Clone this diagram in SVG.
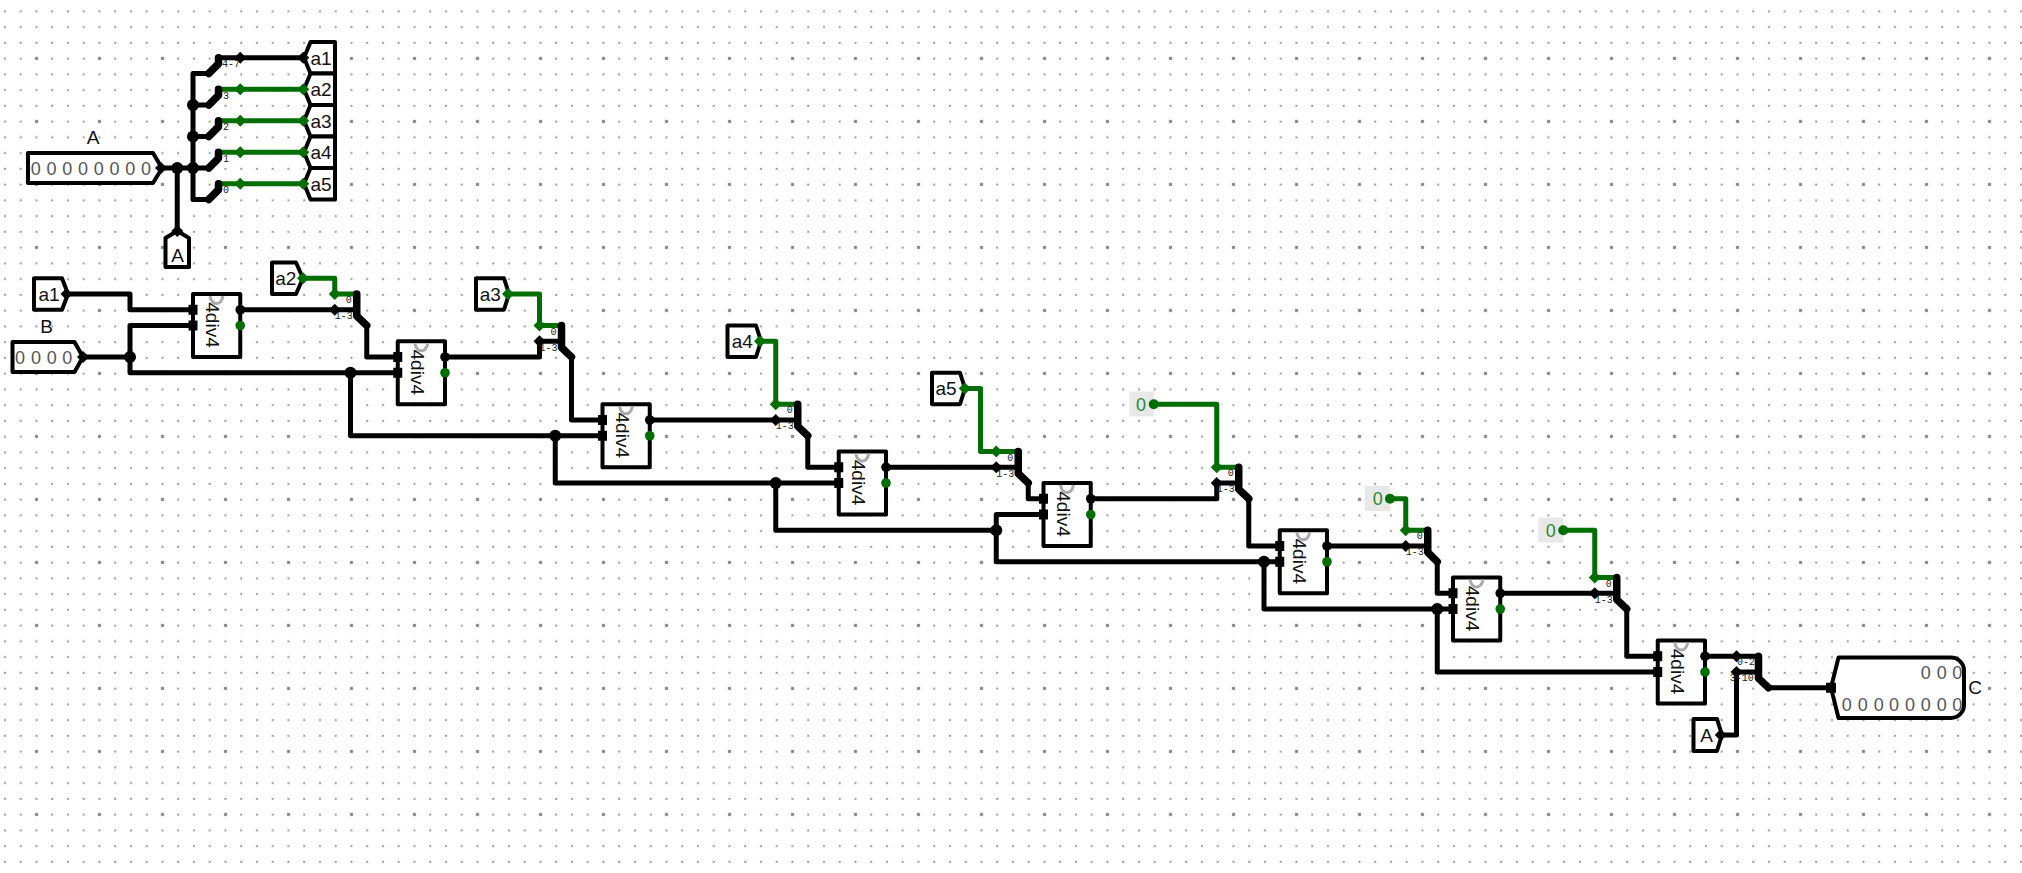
<svg xmlns="http://www.w3.org/2000/svg" width="2022" height="873" viewBox="0 0 2022 873">
<style>
text{font-family:"Liberation Sans",Arial,sans-serif;fill:#111}
.t{font-size:19px;text-anchor:middle}
.v{font-size:18px;text-anchor:middle;fill:#555}
.z{font-size:18px;text-anchor:middle;fill:#2a8a2a}
.m{font-family:"Liberation Mono","Courier New",monospace;font-size:10px;text-anchor:middle;fill:#222}
.box{fill:#fff;stroke:#000;stroke-width:4;stroke-linejoin:round}
.clk{fill:none;stroke:#aaa;stroke-width:3}
.zb{fill:#e8e8e8}
.b,.g{fill:none;stroke-width:5;stroke-linejoin:round;stroke-linecap:round}
.b{stroke:#000}
.g{stroke:#006e00}
.s{fill:none;stroke:#000;stroke-width:7.5;stroke-linejoin:round;stroke-linecap:round}
.kf{fill:#000}
.gf{fill:#006e00}
</style>
<defs>
<pattern id="grid" patternUnits="userSpaceOnUse" x="-2.875" y="34.825" width="63" height="63">
<path fill="#999" d="M6.875 6.875h2v2h-2zM22.625 6.875h2v2h-2zM38.375 6.875h2v2h-2zM54.125 6.875h2v2h-2zM6.875 22.625h2v2h-2zM22.625 22.625h2v2h-2zM54.125 22.625h2v2h-2zM6.875 38.375h2v2h-2zM22.625 38.375h2v2h-2zM38.375 38.375h2v2h-2zM54.125 38.375h2v2h-2zM6.875 54.125h2v2h-2zM22.625 54.125h2v2h-2zM38.375 54.125h2v2h-2zM54.125 54.125h2v2h-2z"/>
<rect x="37.875" y="22.125" width="3" height="3" fill="#808080"/>
</pattern>
<polygon id="dia" points="0,-6 6,0 0,6 -6,0"/>
<g id="regbase">
<rect class="box" width="47.25" height="63"/>
<path class="clk" d="M17 2C19 12 28 12 30 2"/>
<rect class="kf" x="-4.5" y="10.75" width="9" height="10"/>
<rect class="kf" x="-4.5" y="26.5" width="9" height="10"/>
<circle class="kf" cx="47.25" cy="15.75" r="4.8"/>
<circle class="gf" cx="47.25" cy="31.5" r="4.8"/>
</g>
</defs>
<rect width="2022" height="873" fill="#fff"/>
<rect width="2022" height="873" fill="url(#grid)"/>

<g id="input-A">
<path class="box" d="M28 153H153L162 168.2L153 183H28Z"/>
<text class="v" x="35.7" y="174.5">0</text><text class="v" x="51.5" y="174.5">0</text><text class="v" x="67.2" y="174.5">0</text><text class="v" x="83" y="174.5">0</text><text class="v" x="98.7" y="174.5">0</text><text class="v" x="114.5" y="174.5">0</text><text class="v" x="130.2" y="174.5">0</text><text class="v" x="146" y="174.5">0</text>
<text class="t" x="93" y="143.5">A</text>
</g>
<g id="input-B">
<path class="box" d="M12.5 342H74.5L83 357L74.5 372H12.5Z"/>
<text class="v" x="20" y="363.5">0</text><text class="v" x="36" y="363.5">0</text><text class="v" x="51.7" y="363.5">0</text><text class="v" x="67.2" y="363.5">0</text>
<text class="t" x="46.7" y="333">B</text>
</g>
<g id="tunnel-A-top"><path class="box" d="M177.25 231L189 238V267H165.5V238Z"/><text class="t" x="177.5" y="262">A</text></g>
<g id="out-a1"><path class="box" d="M304 57.75L310.5 42H335V73.5H310.5Z"/><text class="t" x="321" y="64.5">a1</text></g>
<g id="out-a2"><path class="box" d="M304 89.25L310.5 73.5H335V105H310.5Z"/><text class="t" x="321" y="96">a2</text></g>
<g id="out-a3"><path class="box" d="M304 120.75L310.5 105H335V136.5H310.5Z"/><text class="t" x="321" y="127.5">a3</text></g>
<g id="out-a4"><path class="box" d="M304 152.25L310.5 136.5H335V168H310.5Z"/><text class="t" x="321" y="159">a4</text></g>
<g id="out-a5"><path class="box" d="M304 183.75L310.5 168H335V199.5H310.5Z"/><text class="t" x="321" y="190.5">a5</text></g>
<g id="tunnel-a1"><path class="box" d="M34 278.25H62L68 294L62 309.75H34Z"/><text class="t" x="49" y="300.8">a1</text></g>
<g id="tunnel-a2"><path class="box" d="M272 262.5H296L303 278.25L296 294H272Z"/><text class="t" x="285.7" y="285">a2</text></g>
<g id="tunnel-a3"><path class="box" d="M476 278.25H504L509 294L504 309.75H476Z"/><text class="t" x="490.3" y="300.8">a3</text></g>
<g id="tunnel-a4"><path class="box" d="M727.5 325.5H756L761 341.25L756 357H727.5Z"/><text class="t" x="742.3" y="348">a4</text></g>
<g id="tunnel-a5"><path class="box" d="M932 372.75H960L965 388.5L960 404.25H932Z"/><text class="t" x="946" y="395.3">a5</text></g>
<g id="tunnel-A-low"><path class="box" d="M1693.5 719H1717L1722 735L1717 751H1693.5Z"/><text class="t" x="1706.7" y="741.5">A</text></g>
<g id="const-0-a"><rect class="zb" x="1129.3" y="391.5" width="24.5" height="25"/><text class="z" x="1141" y="410.5">0</text></g>
<g id="const-0-b"><rect class="zb" x="1365" y="486" width="25" height="25"/><text class="z" x="1377.7" y="505">0</text></g>
<g id="const-0-c"><rect class="zb" x="1538.3" y="517.5" width="25" height="25"/><text class="z" x="1550.7" y="536.5">0</text></g>

<g id="reg1" transform="translate(193 294)"><use href="#regbase"/><text class="t" transform="translate(13 31) rotate(90)">4div4</text></g>
<g id="reg2" transform="translate(397.75 341.25)"><use href="#regbase"/><text class="t" transform="translate(13 31) rotate(90)">4div4</text></g>
<g id="reg3" transform="translate(602.5 404.25)"><use href="#regbase"/><text class="t" transform="translate(13 31) rotate(90)">4div4</text></g>
<g id="reg4" transform="translate(838.75 451.5)"><use href="#regbase"/><text class="t" transform="translate(13 31) rotate(90)">4div4</text></g>
<g id="reg5" transform="translate(1043.5 483)"><use href="#regbase"/><text class="t" transform="translate(13 31) rotate(90)">4div4</text></g>
<g id="reg6" transform="translate(1279.75 530.25)"><use href="#regbase"/><text class="t" transform="translate(13 31) rotate(90)">4div4</text></g>
<g id="reg7" transform="translate(1453 577.5)"><use href="#regbase"/><text class="t" transform="translate(13 31) rotate(90)">4div4</text></g>
<g id="reg8" transform="translate(1657.75 640.5)"><use href="#regbase"/><text class="t" transform="translate(13 31) rotate(90)">4div4</text></g>

<g id="output-C">
<path class="box" d="M1838.5 657.5H1951A13 13 0 0 1 1964 670.5V705A13 13 0 0 1 1951 718H1838.5L1831 687.75Z"/>
<rect class="kf" x="1826" y="682.75" width="10" height="10"/>
<text class="v" x="1925.7" y="678.5">0</text><text class="v" x="1941.7" y="678.5">0</text><text class="v" x="1957.3" y="678.5">0</text>
<text class="v" x="1846.7" y="710.5">0</text><text class="v" x="1862.7" y="710.5">0</text><text class="v" x="1878.7" y="710.5">0</text><text class="v" x="1894" y="710.5">0</text><text class="v" x="1910" y="710.5">0</text><text class="v" x="1925.7" y="710.5">0</text><text class="v" x="1941.7" y="710.5">0</text><text class="v" x="1957.3" y="710.5">0</text>
<text class="t" x="1975" y="694">C</text>
</g>

<g id="connectors">
<path class="b" d="M163 168H208.75M177.25 168V231M208.75 73.5H193V199.5H208.75M193 105H208.75M193 136.5H208.75M218.5 57.75H303.25"/>
<path class="g" d="M218.5 89.25H303.25M218.5 120.75H303.25M218.5 152.25H303.25M218.5 183.75H303.25"/>
<path class="b" d="M67 294H130V309.75H193M83 357H130M193 325.5H130V372.75H397.75M350.5 372.75V435.75H602.5M555.25 435.75V483H838.75M775.75 483V530.25H996.25M996.25 514.5H1043.5M996.25 514.5V561.75H1279.75M1264 561.75V609H1453M1437.25 609V672H1657.75"/>
<path class="b" d="M240.25 309.75H356.75M366.75 325.5V357H397.75M445 357H539.5V341.25H561.5M571.5 357V420H602.5M649.75 420H797.75M807.75 435.75V467.25H838.75M886 467.25H1018.25M1028.25 483V498.75H1043.5M1090.75 498.75H1216.75V483H1238.75M1248.75 498.75V546H1279.75M1327 546H1427.75M1437.25 561.75V593.25H1453M1500.25 593.25H1616.75M1626.75 609V656.25H1657.75M1705 656.25H1758.5M1722 735H1736.5V672H1758.5M1768.5 687.75H1831"/>
<path class="g" d="M303.25 278.25H334.75V294H356.75M508 294H539.5V325.5H561.5M760 341.25H775.75V404.25H797.75M964.75 388.5H980.5V451.5H1018.25M1153.75 404.25H1216.75V467.25H1238.75M1390 498.75H1405.75V530.25H1427.75M1563.25 530.25H1594.75V577.5H1616.75"/>
<g class="kf">
<circle cx="177.25" cy="168" r="6"/><circle cx="193" cy="105" r="6"/><circle cx="193" cy="136.5" r="6"/><circle cx="193" cy="168" r="6"/>
<circle cx="130" cy="357" r="6"/><circle cx="350.5" cy="372.75" r="6"/><circle cx="555.25" cy="435.75" r="6"/><circle cx="775.75" cy="483" r="6"/><circle cx="996.25" cy="530.25" r="6"/><circle cx="1264" cy="561.75" r="6"/><circle cx="1437.25" cy="609" r="6"/>
<use href="#dia" x="161" y="168"/><use href="#dia" x="177.25" y="231"/><use href="#dia" x="240.25" y="57.75"/><use href="#dia" x="303.25" y="57.75"/>
<use href="#dia" x="66.5" y="294"/><use href="#dia" x="83" y="357"/>
<use href="#dia" x="334.75" y="309.75"/><use href="#dia" x="539.5" y="341.25"/><use href="#dia" x="775.75" y="420"/><use href="#dia" x="996.25" y="467.25"/><use href="#dia" x="1216.75" y="483"/><use href="#dia" x="1405.75" y="546"/><use href="#dia" x="1594.75" y="593.25"/><use href="#dia" x="1736.5" y="656.25"/><use href="#dia" x="1736.5" y="672"/><use href="#dia" x="1720.75" y="735"/>
</g>
<g class="gf">
<use href="#dia" x="240.25" y="89.25"/><use href="#dia" x="303.25" y="89.25"/><use href="#dia" x="240.25" y="120.75"/><use href="#dia" x="303.25" y="120.75"/><use href="#dia" x="240.25" y="152.25"/><use href="#dia" x="303.25" y="152.25"/><use href="#dia" x="240.25" y="183.75"/><use href="#dia" x="303.25" y="183.75"/>
<use href="#dia" x="303" y="278.25"/><use href="#dia" x="334.75" y="294"/><use href="#dia" x="508" y="294"/><use href="#dia" x="539.5" y="325.5"/><use href="#dia" x="760" y="341.25"/><use href="#dia" x="775.75" y="404.25"/><use href="#dia" x="964.75" y="388.5"/><use href="#dia" x="996.25" y="451.5"/><use href="#dia" x="1216.75" y="467.25"/><use href="#dia" x="1405.75" y="530.25"/><use href="#dia" x="1594.75" y="577.5"/>
<circle cx="1153.75" cy="404.25" r="5"/><circle cx="1390" cy="498.75" r="5"/><circle cx="1563.25" cy="530.25" r="5"/>
</g>
</g>

<g id="splitter-top">
<path class="s" d="M208.75 73.5L218.5 63.75V57.75M208.75 105L218.5 95.25V89.25M208.75 136.5L218.5 126.75V120.75M208.75 168L218.5 158.25V152.25M208.75 199.5L218.5 189.75V183.75"/>
<text class="m" x="231" y="66.5">4-7</text><text class="m" x="226" y="98.5">3</text><text class="m" x="226" y="130">2</text><text class="m" x="226" y="161.5">1</text><text class="m" x="226" y="193">0</text>
</g>
<g id="splitter-1"><path class="s" d="M356.75 294V316L366.75 325.5"/><text class="m" x="348.75" y="303">0</text><text class="m" x="343.75" y="319">1-3</text></g>
<g id="splitter-2"><path class="s" d="M561.5 325.5V347.5L571.5 357"/><text class="m" x="553.5" y="334.5">0</text><text class="m" x="548.5" y="350.5">1-3</text></g>
<g id="splitter-3"><path class="s" d="M797.75 404.25V426.25L807.75 435.75"/><text class="m" x="789.75" y="413.25">0</text><text class="m" x="784.75" y="429.25">1-3</text></g>
<g id="splitter-4"><path class="s" d="M1018.25 451.5V473.5L1028.25 483"/><text class="m" x="1010.25" y="460.5">0</text><text class="m" x="1005.25" y="476.5">1-3</text></g>
<g id="splitter-5"><path class="s" d="M1238.75 467.25V489.25L1248.75 498.75"/><text class="m" x="1230.75" y="476.25">0</text><text class="m" x="1225.75" y="492.25">1-3</text></g>
<g id="splitter-6"><path class="s" d="M1427.75 530.25V552.25L1437.25 561.75"/><text class="m" x="1419.75" y="539.25">0</text><text class="m" x="1414.75" y="555.25">1-3</text></g>
<g id="splitter-7"><path class="s" d="M1616.75 577.5V599.5L1626.75 609"/><text class="m" x="1608.75" y="586.5">0</text><text class="m" x="1603.75" y="602.5">1-3</text></g>
<g id="splitter-8"><path class="s" d="M1758.5 656.25V678.25L1768.5 687.75"/><text class="m" x="1746" y="665">0-2</text><text class="m" x="1741.7" y="680.5">3-10</text></g>
</svg>
